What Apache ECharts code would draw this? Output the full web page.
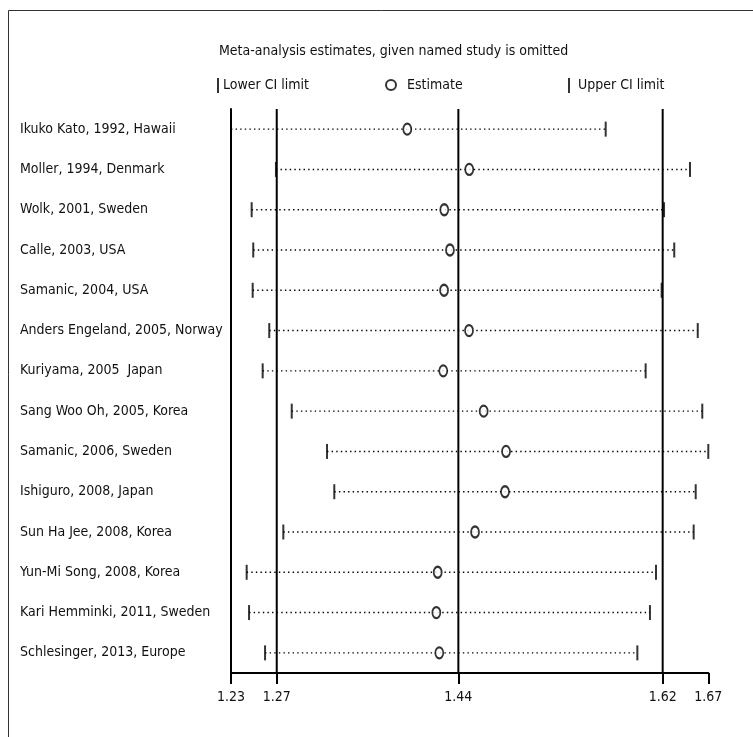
<!DOCTYPE html>
<html>
<head>
<meta charset="utf-8">
<script src="https://cdn.jsdelivr.net/npm/echarts@6/dist/echarts.min.js"></script>
<style>
html,body{margin:0;padding:0;background:#fff;}
#chart{width:753px;height:737px;}
</style>
</head>
<body>
<div id="chart"></div>
<script>
var studies = [
  'Ikuko Kato, 1992, Hawaii',
  'Moller, 1994, Denmark',
  'Wolk, 2001, Sweden',
  'Calle, 2003, USA',
  'Samanic, 2004, USA',
  'Anders Engeland, 2005, Norway',
  'Kuriyama, 2005  Japan',
  'Sang Woo Oh, 2005, Korea',
  'Samanic, 2006, Sweden',
  'Ishiguro, 2008, Japan',
  'Sun Ha Jee, 2008, Korea',
  'Yun-Mi Song, 2008, Korea',
  'Kari Hemminki, 2011, Sweden',
  'Schlesinger, 2013, Europe'
];
var lowerCI  = [1.2347, 1.2743, 1.2529, 1.2543, 1.2538, 1.2684, 1.2626, 1.2882, 1.3193, 1.3257, 1.2808, 1.2485, 1.2506, 1.2647];
var estimate = [1.3900, 1.4446, 1.4226, 1.4276, 1.4224, 1.4444, 1.4217, 1.4573, 1.4770, 1.4761, 1.4497, 1.4168, 1.4156, 1.4182];
var upperCI  = [1.5648, 1.6391, 1.6162, 1.6252, 1.6141, 1.6459, 1.6000, 1.6499, 1.6552, 1.6441, 1.6423, 1.6091, 1.6038, 1.5927];
var refLines = [1.275, 1.435, 1.615];
var tickValues = [1.2347, 1.275, 1.435, 1.615, 1.6552];
var tickLabels = ['1.23', '1.27', '1.44', '1.62', '1.67'];

var FONT = '"DejaVu Sans Condensed", "Liberation Sans Narrow", sans-serif';

var lineData = studies.map(function (s, i) { return [lowerCI[i], upperCI[i], i]; });
var lowData = studies.map(function (s, i) { return [lowerCI[i], i]; });
var upData = studies.map(function (s, i) { return [upperCI[i], i]; });
var estData = studies.map(function (s, i) { return [estimate[i], i]; });
var refData = refLines.map(function (v) { return [v, 0]; });

var chart = echarts.init(document.getElementById('chart'), null, {renderer: 'canvas'});
var barPath = 'path://M0,0L2,0L2,15L0,15Z';

chart.setOption({
  animation: false,
  backgroundColor: '#fff',
  textStyle: {fontFamily: FONT},
  title: {
    text: 'Meta-analysis estimates, given named study is omitted',
    left: 214, top: 39,
    textStyle: {fontFamily: FONT, fontSize: 14, fontWeight: 'normal', color: '#111'}
  },
  legend: [
    {data: ['Lower CI limit'], left: 212, top: 73, itemWidth: 2, itemHeight: 15,
      textStyle: {fontFamily: FONT, fontSize: 14, color: '#111', padding: [0, 0, 0, -1]}},
    {data: ['Estimate'], left: 380, top: 73, itemWidth: 10, itemHeight: 13,
      itemStyle: {color: '#fff', borderColor: '#000', borderWidth: 2},
      textStyle: {fontFamily: FONT, fontSize: 14, color: '#111', padding: [0, 0, 0, 6]}},
    {data: ['Upper CI limit'], left: 563, top: 73, itemWidth: 2, itemHeight: 15,
      textStyle: {fontFamily: FONT, fontSize: 14, color: '#111', padding: [0, 0, 0, 3]}}
  ],
  graphic: [{
    type: 'rect', silent: true, z: -1,
    shape: {x: 8.5, y: 10.5, width: 800, height: 800},
    style: {fill: 'none', stroke: '#333', lineWidth: 1}
  }],
  grid: {left: 231, right: 44.7, top: 109, bottom: 64, containLabel: false},
  xAxis: {
    type: 'value',
    min: tickValues[0], max: tickValues[tickValues.length - 1],
    axisLine: {show: true, onZero: false, lineStyle: {color: '#000', width: 2}},
    axisTick: {show: true, customValues: tickValues, length: 11, lineStyle: {color: '#000', width: 2}},
    axisLabel: {
      customValues: tickValues, margin: 17, fontSize: 14, color: '#111', fontFamily: FONT,
      formatter: function (v) {
        var best = 0, d = 1e9;
        for (var k = 0; k < tickValues.length; k++) {
          var dd = Math.abs(tickValues[k] - v);
          if (dd < d) { d = dd; best = k; }
        }
        return tickLabels[best];
      }
    },
    splitLine: {show: false}
  },
  yAxis: {
    type: 'category',
    data: studies,
    inverse: true,
    axisLine: {show: true, lineStyle: {color: '#000', width: 2}},
    axisTick: {show: false},
    axisLabel: {align: 'left', margin: 211, fontSize: 14, color: '#111', fontFamily: FONT},
    splitLine: {show: false}
  },
  series: [
    {
      name: 'Overall',
      type: 'custom',
      data: refData,
      encode: {x: 0, y: 1},
      z: 1,
      silent: true,
      renderItem: function (params, api) {
        var cs = params.coordSys;
        var p = api.coord([api.value(0), 0]);
        return {
          type: 'line',
          shape: {x1: p[0], y1: cs.y, x2: p[0], y2: cs.y + cs.height},
          style: {stroke: '#000', lineWidth: 2}
        };
      }
    },
    {
      name: 'CI',
      type: 'custom',
      data: lineData,
      encode: {x: [0, 1], y: 2},
      z: 2,
      silent: true,
      renderItem: function (params, api) {
        var p1 = api.coord([api.value(0), api.value(2)]);
        var p2 = api.coord([api.value(1), api.value(2)]);
        return {
          type: 'line',
          shape: {x1: p1[0], y1: p1[1], x2: p2[0], y2: p2[1]},
          style: {stroke: '#000', lineWidth: 1.4, lineDash: [1.4, 3.2]}
        };
      }
    },
    {
      name: 'Lower CI limit',
      type: 'scatter',
      data: lowData,
      symbol: barPath,
      symbolKeepAspect: false,
      symbolSize: [2, 15],
      itemStyle: {color: '#000'},
      z: 3
    },
    {
      name: 'Upper CI limit',
      type: 'scatter',
      data: upData,
      symbol: barPath,
      symbolKeepAspect: false,
      symbolSize: [2, 15],
      itemStyle: {color: '#000'},
      z: 3
    },
    {
      name: 'Estimate',
      type: 'scatter',
      data: estData,
      symbol: 'circle',
      symbolSize: [8, 11],
      itemStyle: {color: '#fff', borderColor: '#000', borderWidth: 2},
      z: 4
    }
  ]
});
</script>
</body>
</html>
